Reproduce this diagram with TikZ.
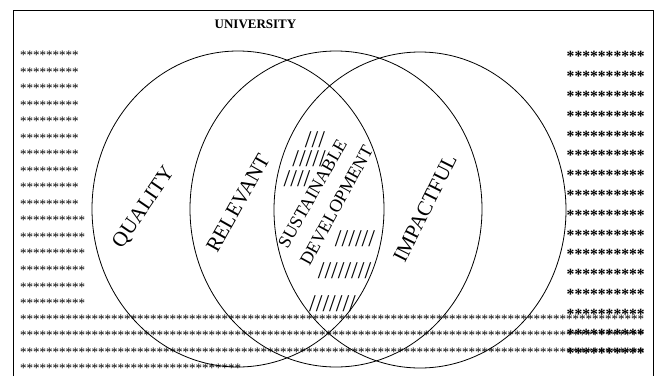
\documentclass[tikz,border=0pt]{standalone}
\usepackage{fontspec}
\setmainfont{Liberation Serif}
\ExplSyntaxOn
\cs_new:Npn \starsrep #1 {\prg_replicate:nn{#1}{*}}
\cs_new:Npn \slashrep #1 {\prg_replicate:nn{#1}{/}}
\ExplSyntaxOff
\begin{document}
\begin{tikzpicture}[x=1pt,y=-1pt,
 venn/.style={draw, line width=0.8pt},
 starL/.style={anchor=base west, inner sep=0, font=\fontsize{13}{13}\selectfont},
 starR/.style={anchor=base west, inner sep=0, font=\fontsize{15.6}{15.6}\selectfont\bfseries},
 hatch/.style={inner sep=0, font=\fontsize{24}{24}\selectfont},
 lbl/.style={inner sep=0, font=\fontsize{21}{21}\selectfont},
 lblsm/.style={inner sep=0, font=\fontsize{18}{18}\selectfont}]
\useasboundingbox (0,0) rectangle (657,376);
\draw[line width=1pt] (13,376) -- (13,10) -- (653,10) -- (653,376);
\node[font=\fontsize{13}{13}\selectfont\bfseries] (title) at (255.5,24) {UNIVERSITY};
% left column
\foreach \i in {0,...,9} \node[starL] (l\i) at (20, 53+16.53*\i+6.6) {\starsrep{9}};
\foreach \i in {10,...,15} \node[starL] (l\i) at (20, 53+16.53*\i+6.6) {\starsrep{10}};
% long rows
\node[starL] (long1) at (20,317+6.6) {\starsrep{96}};
\node[starL] (long2) at (20,333+6.6) {\starsrep{96}};
\node[starL] (long3) at (20,350+6.6) {\starsrep{96}};
\node[starL] (long4) at (20,366+6.6) {\starsrep{34}};
% right column
\foreach \i in {0,...,15} \node[starR] (r\i) at (566.5, 54+19.8*\i+7.9) {\starsrep{10}};
% hatching
\node[hatch] (h1) at (315,139.5) {\slashrep{3}};
\node[hatch] (h2) at (309,158.5) {\slashrep{5}};
\node[hatch] (h3) at (297,178.5) {\slashrep{4}};
\node[hatch] (h4) at (355,238.5) {\slashrep{6}};
\node[hatch] (h5) at (344.5,271) {\slashrep{8}};
\node[hatch] (h6) at (332.5,303.5) {\slashrep{7}};
% ellipses
\coordinate (cq) at (238,209);
\coordinate (cr) at (336,209);
\coordinate (ci) at (420,210);
\draw[venn] (cq) ellipse [x radius=146pt, y radius=158pt];
\draw[venn] (cr) ellipse [x radius=146pt, y radius=158pt];
\draw[venn] (ci) ellipse [x radius=146pt, y radius=158pt];
% labels
\node[lbl, rotate=55.6] (quality) at (144,208) {QUALITY};
\node[lbl, rotate=60.5] (relevant) at (238,203) {RELEVANT};
\node[lbl, rotate=63.4] (impactful) at (425,208) {IMPACTFUL};
\node[lblsm, rotate=60.4] (sust) at (312.5,193.5) {SUSTAINABLE};
\node[lblsm, rotate=61.3] (dev) at (336.5,205.5) {DEVELOPMENT};
\end{tikzpicture}
\end{document}
